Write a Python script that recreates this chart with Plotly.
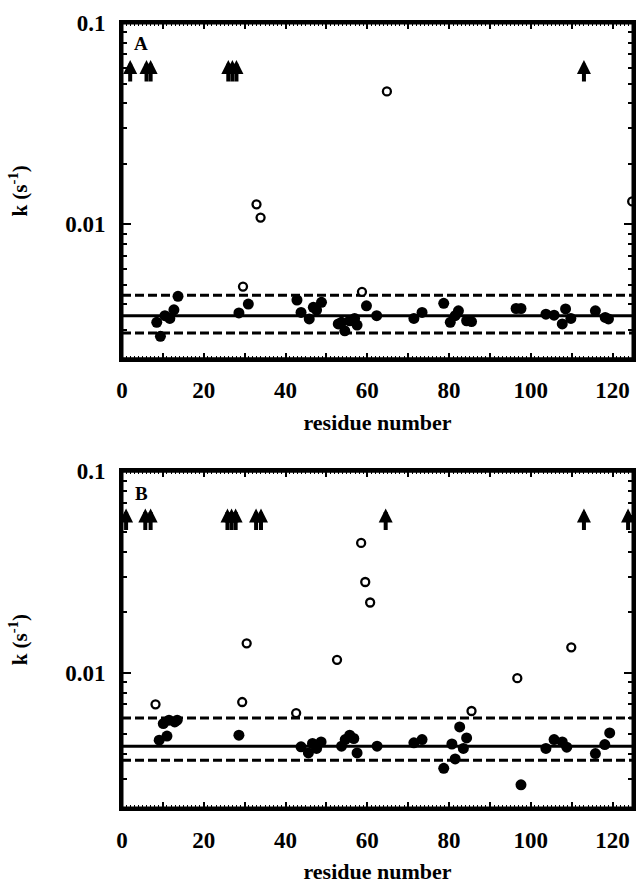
import numpy as np
import plotly.graph_objects as go
from plotly.subplots import make_subplots

# ---------------- data ----------------
# Panel A
a_filled_res = [8.5, 9.4, 10.5, 11.7, 12.7, 13.7, 28.6, 30.9, 42.8, 43.8, 45.8, 46.8, 47.6, 48.8,
                52.9, 53.7, 54.5, 55.7, 56.9, 57.5, 59.8, 62.3, 71.4, 73.4, 78.7, 80.3, 81.5,
                82.3, 84.3, 85.5, 96.4, 97.6, 103.7, 105.7, 107.7, 108.5, 109.8, 115.8, 118.2, 119.0]
a_filled_k = [0.00326, 0.00278, 0.00352, 0.00341, 0.00376, 0.00439, 0.00363, 0.00402, 0.00421,
              0.00365, 0.00339, 0.00387, 0.00375, 0.00410, 0.00320, 0.00326, 0.00296, 0.00332,
              0.00341, 0.00316, 0.00394, 0.00352, 0.00341, 0.00365, 0.00405, 0.00326, 0.00352,
              0.00372, 0.00332, 0.00329, 0.00382, 0.00382, 0.00358, 0.00354, 0.00320, 0.00380,
              0.00341, 0.00372, 0.00345, 0.00339]
a_open_res = [29.6, 32.9, 33.9, 58.7, 64.8, 124.8]
a_open_k = [0.00491, 0.01257, 0.0108, 0.00462, 0.0457, 0.0130]
a_mean, a_upper, a_lower = 0.00352, 0.00445, 0.00289
a_arrow_res = [2, 6, 7, 26, 27, 28, 113]

# Panel B
b_filled_res = [9.1, 10.1, 11.0, 11.5, 12.9, 13.5, 28.6, 43.8, 45.6, 46.6, 47.6, 48.7, 53.7, 54.6,
                55.7, 56.7, 57.5, 62.4, 71.4, 73.4, 78.7, 80.7, 81.5, 82.6, 83.5, 84.3, 97.6,
                103.7, 105.7, 107.7, 108.8, 115.8, 118.1, 119.3]
b_filled_k = [0.00466, 0.00563, 0.00488, 0.00585, 0.00574, 0.00585, 0.00493, 0.00432, 0.00403,
              0.00449, 0.00424, 0.00457, 0.00435, 0.00469, 0.00493, 0.00475, 0.00403, 0.00435,
              0.00452, 0.00469, 0.00338, 0.00446, 0.00376, 0.00542, 0.00424, 0.00478, 0.00280,
              0.00424, 0.00469, 0.00457, 0.00430, 0.00400, 0.00443, 0.00506]
b_open_res = [8.2, 29.4, 30.5, 42.6, 52.6, 58.5, 59.5, 60.7, 85.5, 96.7, 109.9]
b_open_k = [0.00701, 0.00720, 0.01406, 0.00635, 0.01165, 0.0442, 0.0283, 0.0224, 0.0065, 0.00945, 0.01343]
b_mean, b_upper, b_lower = 0.00435, 0.0060, 0.00371
b_arrow_res = [1, 5.7, 7, 25.8, 26.8, 27.8, 32.8, 34, 64.5, 113, 123.8]

arrow_k = 0.0655
panel_labels = ["A", "B"]
x_ticks = list(range(0, 130, 10))
x_ticktext = [str(v) if v % 20 == 0 else "" for v in x_ticks]
y_ticks = [0.01, 0.1]
y_ticktext = ["0.01", "0.1"]
y_minor = [m * 10.0 ** e for e in (-3, -2) for m in range(2, 10)]

FONT = "Liberation Serif"

fig = make_subplots(rows=2, cols=1)

panels = [
    (a_filled_res, a_filled_k, a_open_res, a_open_k, a_mean, a_upper, a_lower, a_arrow_res),
    (b_filled_res, b_filled_k, b_open_res, b_open_k, b_mean, b_upper, b_lower, b_arrow_res),
]

for i, (fr, fk, orr, ok, mean, up, lo, arr) in enumerate(panels):
    row = i + 1
    xr = "x" if i == 0 else "x2"
    yr = "y" if i == 0 else "y2"
    fig.add_trace(go.Scatter(x=fr, y=fk, mode="markers",
                             marker=dict(size=11, color="black", line=dict(width=0)),
                             showlegend=False), row=row, col=1)
    fig.add_trace(go.Scatter(x=orr, y=ok, mode="markers",
                             marker=dict(size=8, color="white", line=dict(width=2.3, color="black")),
                             showlegend=False), row=row, col=1)
    fig.add_hline(y=mean, line=dict(color="black", width=3), layer="below", row=row, col=1,
                  exclude_empty_subplots=False)
    fig.add_hline(y=up, line=dict(color="black", width=3, dash="9px,4px"), layer="below",
                  row=row, col=1, exclude_empty_subplots=False)
    fig.add_hline(y=lo, line=dict(color="black", width=3, dash="9px,4px"), layer="below",
                  row=row, col=1, exclude_empty_subplots=False)
    # frame
    fig.add_shape(type="rect", xref=xr + " domain", yref=yr + " domain", x0=0, x1=1, y0=0, y1=1,
                  line=dict(color="black", width=3), fillcolor="rgba(0,0,0,0)", layer="above")
    for r in arr:
        fig.add_annotation(x=r, y=np.log10(arrow_k), xref=xr, yref=yr, ax=0, ay=23,
                           showarrow=True, arrowhead=2, arrowsize=0.7, arrowwidth=4,
                           arrowcolor="black", text="", font=dict(size=1))
    fig.add_annotation(x=0.038, y=0.94 if i == 0 else 0.935, xref=xr + " domain", yref=yr + " domain",
                       xanchor="center", yanchor="middle",
                       text="<b>%s</b>" % panel_labels[i], showarrow=False,
                       font=dict(family=FONT, size=19, color="black"))

axis_common = dict(showline=True, linewidth=3, linecolor="black", mirror="allticks",
                   showgrid=False, zeroline=False, ticks="inside", tickcolor="black")

fig.update_xaxes(range=[0, 125], tickmode="array", tickvals=x_ticks, ticktext=x_ticktext,
                 ticklen=6, tickwidth=2,
                 minor=dict(dtick=1, ticks="inside", ticklen=3, tickwidth=1, tickcolor="black", showgrid=False),
                 tickfont=dict(family=FONT, size=23, color="black", weight="bold"),
                 ticklabelstandoff=9,
                 title=dict(text="<b>residue number</b>", font=dict(family=FONT, size=22, color="black"),
                            standoff=13),
                 **axis_common)
fig.update_yaxes(type="log", range=[np.log10(0.00215), -1], tickmode="array",
                 tickvals=y_ticks, ticktext=y_ticktext, ticklen=9, tickwidth=2,
                 minor=dict(tickmode="array", tickvals=y_minor, ticks="inside", ticklen=5,
                            tickwidth=2, tickcolor="black", showgrid=False),
                 tickfont=dict(family=FONT, size=23, color="black", weight="bold"),
                 ticklabelstandoff=9,
                 title=dict(text="<b>k (s<sup>-1</sup>)</b>", font=dict(family=FONT, size=21, color="black"),
                            standoff=32),
                 **axis_common)

fig.update_layout(
    width=639, height=884,
    margin=dict(l=122, r=3, t=23, b=73),
    plot_bgcolor="white", paper_bgcolor="white",
    xaxis=dict(domain=[0, 1]), xaxis2=dict(domain=[0, 1]),
    yaxis=dict(domain=[0.5723, 1.0]), yaxis2=dict(domain=[0.0, 0.4289]),
    showlegend=False,
)

fig.write_html("out.html", config={"displayModeBar": False},
               post_script="document.body.style.margin='0px';")
